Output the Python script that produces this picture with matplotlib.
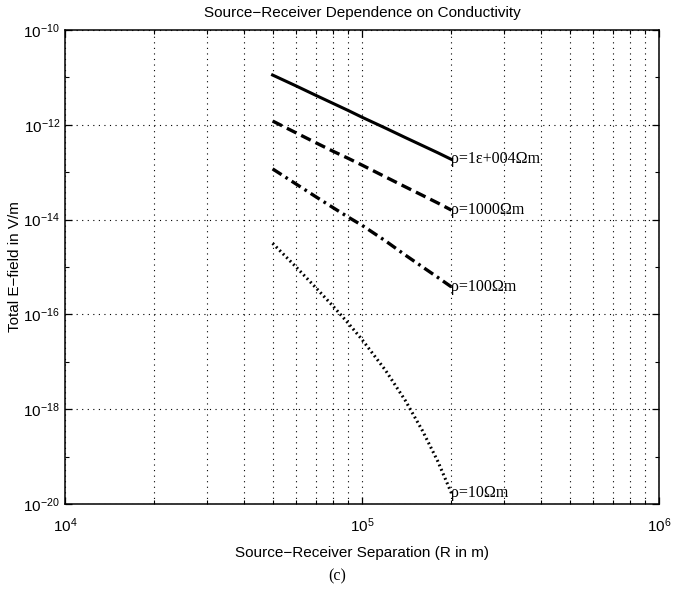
import numpy as np
import matplotlib
matplotlib.use("Agg")
import matplotlib.pyplot as plt
from matplotlib.ticker import FixedLocator, LogLocator, NullFormatter

# source-receiver separation (m)
R = [5e4, 6e4, 7e4, 8e4, 9e4, 1e5, 1.2e5, 1.4e5, 1.6e5, 1.8e5, 2e5]

# log10 of total E-field (V/m)
e_rho_1e4 = [-10.95, -11.18, -11.38, -11.55, -11.70, -11.84, -12.07, -12.27, -12.44, -12.59, -12.73]
e_rho_1000 = [-11.92, -12.17, -12.38, -12.56, -12.71, -12.85, -13.10, -13.31, -13.49, -13.65, -13.80]
e_rho_100 = [-12.93, -13.25, -13.52, -13.75, -13.95, -14.12, -14.45, -14.75, -15.00, -15.22, -15.42]
e_rho_10 = [-14.50, -15.00, -15.44, -15.83, -16.19, -16.53, -17.18, -17.82, -18.46, -19.10, -19.77]

labels = ["ρ=1ε+004Ωm", "ρ=1000Ωm", "ρ=100Ωm", "ρ=10Ωm"]
styles = ["-", (0, (3.2, 1.6)), (0, (3.2, 1.4, 0.8, 1.4)), (0, (0.6, 1.0))]
widths = [2.2, 2.4, 2.4, 2.2]

plt.rcParams['font.family'] = ['Liberation Sans', 'DejaVu Sans']

fig = plt.figure(figsize=(6.74, 5.93), dpi=100)
ax = fig.add_axes([65 / 674, 1 - 504 / 593, 594 / 674, 474 / 593])

series = [e_rho_1e4, e_rho_1000, e_rho_100, e_rho_10]
for vals, lab, ls, lw in zip(series, labels, styles, widths):
    y = 10.0 ** np.array(vals)
    ax.plot(R, y, color='black', linestyle=ls, linewidth=lw)
    ax.text(R[-1], y[-1], lab, ha='left', va='center', fontsize=11.5,
            family=['Liberation Serif', 'DejaVu Serif'])

ax.set_xscale('log')
ax.set_yscale('log')
ax.set_xlim(1e4, 1e6)
ax.set_ylim(1e-20, 1e-10)

ax.xaxis.set_major_locator(FixedLocator([1e4, 1e5, 1e6]))
ax.xaxis.set_minor_locator(LogLocator(base=10, subs=np.arange(2, 10)))
ax.xaxis.set_minor_formatter(NullFormatter())
ax.yaxis.set_major_locator(FixedLocator([10.0 ** k for k in range(-20, -9, 2)]))
ax.yaxis.set_minor_locator(FixedLocator([10.0 ** k for k in range(-19, -10, 2)]))
ax.yaxis.set_minor_formatter(NullFormatter())

ax.set_xticklabels([r'$\mathregular{10^{%d}}$' % k for k in (4, 5, 6)])
ax.set_yticklabels([r'$\mathregular{10^{%d}}$' % k for k in range(-20, -9, 2)])

ax.tick_params(which='both', direction='in', top=True, right=True, labelsize=11, colors='black')
ax.tick_params(which='major', length=5, width=0.9)
ax.tick_params(which='minor', length=3, width=0.8)
ax.tick_params(axis='x', which='major', pad=9)

grid_kw = dict(color='black', linestyle=(0, (1, 4)), linewidth=0.8)
ax.grid(True, which='both', axis='x', **grid_kw)
ax.grid(True, which='major', axis='y', **grid_kw)

for s in ax.spines.values():
    s.set_linewidth(1.1)

ax.set_title('Source\u2212Receiver Dependence on Conductivity', fontsize=11, pad=9)
ax.set_xlabel('Source\u2212Receiver Separation (R in m)', fontsize=11, labelpad=8)
ax.set_ylabel('Total E\u2212field in V/m', fontsize=11, labelpad=1)

fig.text(0.5, 1 - 576 / 593, '(c)', ha='center', va='center', fontsize=11.5,
         family=['Liberation Serif', 'DejaVu Serif'])

fig.savefig('out.png', dpi=100)
